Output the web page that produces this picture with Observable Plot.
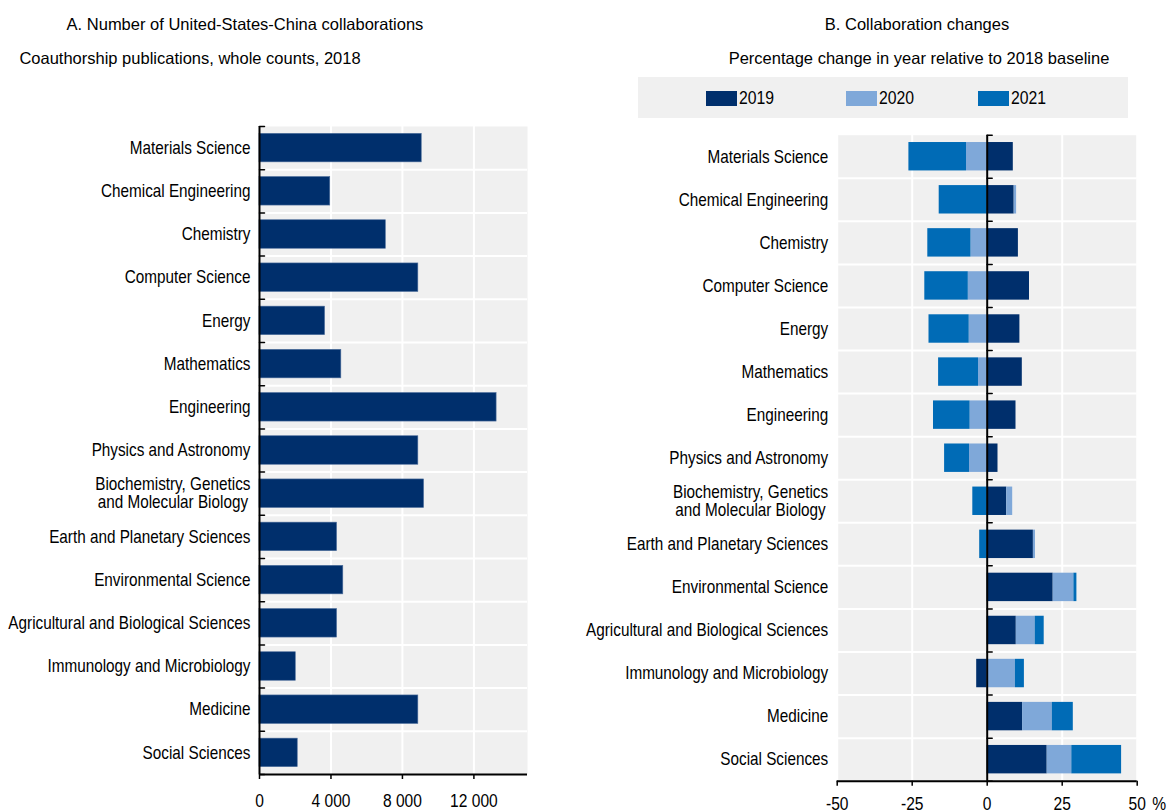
<!DOCTYPE html>
<html>
<head>
<meta charset="utf-8">
<script src="https://cdn.jsdelivr.net/npm/d3@7"></script>
<script src="https://cdn.jsdelivr.net/npm/@observablehq/plot@0.6"></script>
<style>
  html, body { margin: 0; padding: 0; }
  body { width: 1169px; height: 812px; overflow: hidden; background: #fff; position: relative;
         font-family: "Liberation Sans", Arial, sans-serif; color: #000; }
  .t { position: absolute; white-space: nowrap; text-align: center; font-size: 16.5px; line-height: 20px; }
  .chart { position: absolute; }
  .chart svg { overflow: visible; }
  #legend { position: absolute; left: 638px; top: 77px; width: 490px; height: 41px; background: #f0f0f0; }
  .sw { position: absolute; top: 13.7px; width: 31px; height: 15px; }
  .lt { position: absolute; top: 10px; font-size: 19px; line-height: 22px; transform: scaleX(0.83); transform-origin: left center; }
</style>
</head>
<body>
<div class="t" style="left:-55px;width:600px;top:14px;">A. Number of United-States-China collaborations</div>
<div class="t" style="left:-110px;width:600px;top:48px;">Coauthorship publications, whole counts, 2018</div>
<div class="t" style="left:617px;width:600px;top:14px;">B. Collaboration changes</div>
<div class="t" style="left:619px;width:600px;top:48px;">Percentage change in year relative to 2018 baseline</div>
<div id="legend"></div>
<div id="chartA" class="chart" style="left:0px;top:90px;"></div>
<div id="chartB" class="chart" style="left:560px;top:90px;"></div>
<script>
// ---------- data ----------
const categories = [
  "Materials Science",
  "Chemical Engineering",
  "Chemistry",
  "Computer Science",
  "Energy",
  "Mathematics",
  "Engineering",
  "Physics and Astronomy",
  "Biochemistry, Genetics\nand Molecular Biology",
  "Earth and Planetary Sciences",
  "Environmental Science",
  "Agricultural and Biological Sciences",
  "Immunology and Microbiology",
  "Medicine",
  "Social Sciences"
];
// Panel A: coauthorship publications, whole counts, 2018
const collab2018 = [9080, 3960, 7070, 8890, 3670, 4580, 13270, 8890, 9210, 4340, 4690, 4340, 2030, 8890, 2140];
// Panel B: percentage change relative to 2018 (stacked contributions)
const years = ["2019", "2020", "2021"];
const change2019 = [8.7, 9.0, 10.4, 14.1, 10.9, 11.7, 9.6, 3.6, 6.5, 15.4, 22.0, 9.7, -3.5, 11.8, 20.0];
const change2020 = [-6.9, 0.8, -5.4, -6.3, -6.0, -2.9, -5.7, -5.9, 2.0, 0.7, 6.9, 6.3, 9.4, 9.9, 8.2];
const change2021 = [-19.2, -16.0, -14.4, -14.5, -13.4, -13.3, -12.2, -8.3, -4.8, -2.5, 1.0, 3.0, 3.0, 7.0, 16.6];
const xTicksA = [0, 4000, 8000, 12000];
const xDomainA = [0, 15000];
const xTicksB = [-50, -25, 0, 25, 50];
const xDomainB = [-50, 50];
const yearColors = ["#002F6C", "#7FA8D9", "#006BB6"];

// ---------- helpers ----------
const FONT = '"Liberation Sans", Arial, sans-serif';
const NARROW_LABEL = 0.85; // emulate Arial Narrow for category labels
const NARROW_TICK = 0.82;  // emulate Arial Narrow for tick labels
const N = categories.length;
const bandPad = 0.17;
const boundaries = d3.range(N + 1);
const centers = d3.range(N).map(i => i + 0.5);
const labelOf = d => categories[Math.floor(d)];
const fmtA = d3.formatLocale({decimal: ".", thousands: " ", grouping: [3], currency: ["", ""]}).format(",");
const tickShape = {draw(context, l) { context.moveTo(0, 0); context.lineTo(0, -l); }};

const rowsA = categories.map((c, i) => ({i, value: collab2018[i]}));
const seriesB = [change2019, change2020, change2021];
const rowsB = years.flatMap((yr, k) => categories.map((c, i) => ({i, year: yr, value: seriesB[k][i]})));

function baseMarks(xTicks) {
  return [
    Plot.frame({fill: "#f0f0f0", stroke: null}),
    Plot.gridX(xTicks, {stroke: "#fff", strokeOpacity: 1, strokeWidth: 2}),
    Plot.gridY(d3.range(1, N), {stroke: "#fff", strokeOpacity: 1, strokeWidth: 2})
  ];
}
function axisMarks(xTicks, tickFormat, tickPadding) {
  return [
    Plot.ruleX([0], {stroke: "#000", strokeWidth: 2}),
    Plot.ruleY([N], {stroke: "#000", strokeWidth: 2}),
    Plot.vector(boundaries, {x: () => 0, y: d => d, length: 5, rotate: 90, anchor: "start", shape: tickShape, stroke: "#000", strokeWidth: 1.5}),
    Plot.axisX(xTicks, {tickSize: 5, tickPadding, tickFormat, fontSize: 19, strokeWidth: 1.5, label: null})
  ];
}
// condense SVG texts horizontally around their anchors; center multi-line labels
function condense(svg) {
  svg.querySelectorAll("text").forEach(t => {
    const tspans = Array.from(t.querySelectorAll("tspan"));
    if (tspans.length > 1) {
      const maxW = d3.max(tspans, s => s.getComputedTextLength());
      t.setAttribute("text-anchor", "middle");
      tspans.forEach(s => s.setAttribute("x", -maxW / 2));
    }
    const g = t.closest("g");
    const isY = g && (g.getAttribute("aria-label") || "").startsWith("y-axis");
    const k = isY ? NARROW_LABEL : NARROW_TICK;
    const tr = t.getAttribute("transform") || "";
    t.setAttribute("transform", (tr + ` scale(${k},1)`).trim());
  });
}

// ---------- Panel A ----------
const plotA = Plot.plot({
  width: 545, height: 722,
  marginLeft: 259, marginRight: 18, marginTop: 36, marginBottom: 38,
  style: {fontFamily: FONT, fontSize: "18px", color: "#000", background: "transparent", overflow: "visible"},
  x: {domain: xDomainA, axis: null},
  y: {domain: [0, N], reverse: true, axis: null},
  marks: [
    ...baseMarks(xTicksA),
    Plot.rect(rowsA, {x1: 0, x2: "value", y1: d => d.i + bandPad, y2: d => d.i + 1 - bandPad,
                      fill: "#002F6C", stroke: "#4d6e9c", strokeWidth: 0.6}),
    ...axisMarks(xTicksA, fmtA, 14),
    Plot.axisY(centers, {tickSize: 0, tickPadding: 9, tickFormat: labelOf, fontSize: 18, lineHeight: 1, label: null})
  ]
});
document.getElementById("chartA").appendChild(plotA);
condense(plotA);

// ---------- Panel B ----------
const plotB = Plot.plot({
  width: 609, height: 722,
  marginLeft: 276.7, marginRight: 32.3, marginTop: 44.7, marginBottom: 31.3,
  style: {fontFamily: FONT, fontSize: "18px", color: "#000", background: "transparent", overflow: "visible"},
  x: {domain: xDomainB, axis: null},
  y: {domain: [0, N], reverse: true, axis: null},
  color: {domain: years, range: yearColors},
  marks: [
    ...baseMarks(xTicksB),
    Plot.rectX(rowsB, Plot.stackX({x: "value", y1: d => d.i + bandPad, y2: d => d.i + 1 - bandPad, fill: "year", order: null})),
    ...axisMarks(xTicksB, d => String(d), 10),
    Plot.text([50], {x: d => d, frameAnchor: "bottom", lineAnchor: "top", dy: 15, dx: 22, text: () => "%", fontSize: 19}),
    Plot.axisY(centers, {anchor: "left", tickSize: 0, tickPadding: 9, tickFormat: labelOf, fontSize: 18, lineHeight: 1, label: null})
  ]
});
document.getElementById("chartB").appendChild(plotB);
condense(plotB);

// ---------- Legend ----------
const legend = document.getElementById("legend");
const legendLeft = [67.7, 208, 339.7];
years.forEach((yr, k) => {
  const sw = document.createElement("div");
  sw.className = "sw";
  sw.style.left = legendLeft[k] + "px";
  sw.style.background = yearColors[k];
  legend.appendChild(sw);
  const t = document.createElement("div");
  t.className = "lt";
  t.style.left = (legendLeft[k] + 33) + "px";
  t.textContent = yr;
  legend.appendChild(t);
});
</script>
</body>
</html>
